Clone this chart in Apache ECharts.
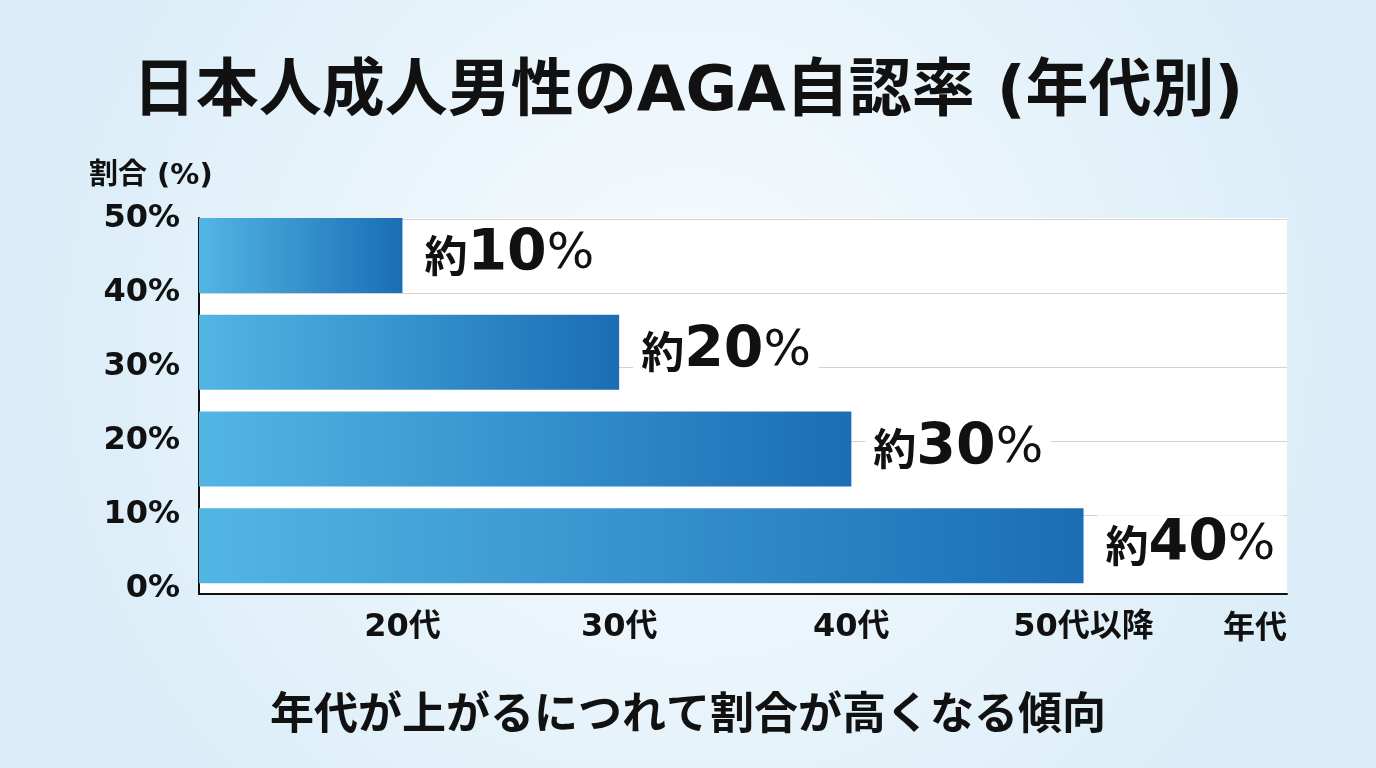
<!DOCTYPE html>
<html>
<head>
<meta charset="utf-8">
<script src="https://cdn.jsdelivr.net/npm/echarts@6/dist/echarts.min.js"></script>
<style>
html,body{margin:0;padding:0;width:1376px;height:768px;overflow:hidden;}
#chart{width:1376px;height:768px;}
</style>
</head>
<body>
<div id="chart"></div>
<script>
// ---- data ----
const categories = ['20代', '30代', '40代', '50代以降'];
const barLengths = [9.2, 19.0, 29.5, 40.0];      // drawn bar lengths
const approxPercent = [10, 20, 30, 40];          // value labels "約xx%"
const xAxisMax = 49.2;
const yAxisMin = 0, yAxisMax = 50, yAxisStep = 10; // 0% .. 50%
const titleText = '日本人成人男性のAGA自認率 (年代別)';
const subtitleText = '年代が上がるにつれて割合が高くなる傾向';
const yAxisName = '割合 (%)';
const xAxisName = '年代';

const LAT = "'DejaVu Sans', 'Noto Sans CJK JP', sans-serif";
const CJK = "'Noto Sans CJK JP', sans-serif";

const chart = echarts.init(document.getElementById('chart'));
const gridPos = {left: 199, right: 89};

chart.setOption({
  backgroundColor: new echarts.graphic.RadialGradient(0.5, 0.45, 0.85, [
    {offset: 0, color: '#f9fcfe'},
    {offset: 1, color: '#dbedf8'}
  ]),
  animation: false,
  title: [
    {text: titleText, left: 'center', top: 57,
     textStyle: {fontFamily: LAT, fontSize: 63, fontWeight: 'bold', color: '#111'}},
    {text: subtitleText, left: 'center', top: 685,
     textStyle: {fontFamily: CJK, fontSize: 44, fontWeight: 'bold', color: '#111'}},
    {text: yAxisName, left: 84, top: 157,
     textStyle: {fontFamily: LAT, fontSize: 29, fontWeight: 'bold', color: '#111'}}
  ],
  grid: [
    Object.assign({top: 218, bottom: 174, show: true, backgroundColor: '#ffffff', borderWidth: 0}, gridPos),
    Object.assign({top: 219, bottom: 179}, gridPos),
    Object.assign({top: 207, bottom: 174}, gridPos)
  ],
  xAxis: [
    {gridIndex: 0, type: 'value', show: false},
    {gridIndex: 1, type: 'value', show: false},
    {gridIndex: 2, type: 'value', min: 0, max: xAxisMax,
     axisLine: {show: true, onZero: false, lineStyle: {color: '#111', width: 2}},
     axisTick: {show: false}, splitLine: {show: false},
     axisLabel: {
       customValues: barLengths,
       formatter: (v) => { const i = barLengths.indexOf(v); return i >= 0 ? categories[i] : ''; },
       fontFamily: LAT, fontSize: 32, fontWeight: 'bold', color: '#111', margin: 18
     },
     name: xAxisName, nameLocation: 'end', nameGap: 0,
     nameTextStyle: {fontFamily: CJK, fontSize: 32, fontWeight: 'bold', color: '#111',
       align: 'right', verticalAlign: 'top', padding: [16, 0, 0, 0]}
    }
  ],
  yAxis: [
    {gridIndex: 0, type: 'value',
     axisLine: {show: true, onZero: false, lineStyle: {color: '#111', width: 2}},
     axisTick: {show: false}, axisLabel: {show: false}, splitLine: {show: false}},
    {gridIndex: 1, type: 'value', min: yAxisMin, max: yAxisMax, interval: yAxisStep,
     axisLine: {show: false}, axisTick: {show: false},
     axisLabel: {formatter: '{value}%', fontFamily: LAT, fontSize: 32, fontWeight: 'bold', color: '#111', margin: 19},
     splitLine: {show: true, showMinLine: false, lineStyle: {color: '#d2d2d2', width: 1}}},
    {gridIndex: 2, type: 'category', data: categories, inverse: true, show: false}
  ],
  series: [{
    type: 'bar',
    xAxisIndex: 2, yAxisIndex: 2,
    barWidth: 75,
    data: barLengths.map((v, i) => ({value: v, pct: approxPercent[i]})),
    itemStyle: {
      color: new echarts.graphic.LinearGradient(0, 0, 1, 0, [
        {offset: 0, color: '#52b6e5'},
        {offset: 1, color: '#1b6db4'}
      ])
    },
    label: {
      show: true, position: 'right', distance: 14,
      backgroundColor: '#ffffff', padding: [2, 8],
      formatter: (p) => '{a|約}{b|' + approxPercent[p.dataIndex] + '}{c|%}',
      rich: {
        a: {fontFamily: CJK, fontSize: 43, fontWeight: 'bold', color: '#111'},
        b: {fontFamily: LAT, fontSize: 57, fontWeight: 'bold', color: '#111'},
        c: {fontFamily: LAT, fontSize: 50, fontWeight: 'normal', color: '#111'}
      }
    }
  }]
});
</script>
</body>
</html>
